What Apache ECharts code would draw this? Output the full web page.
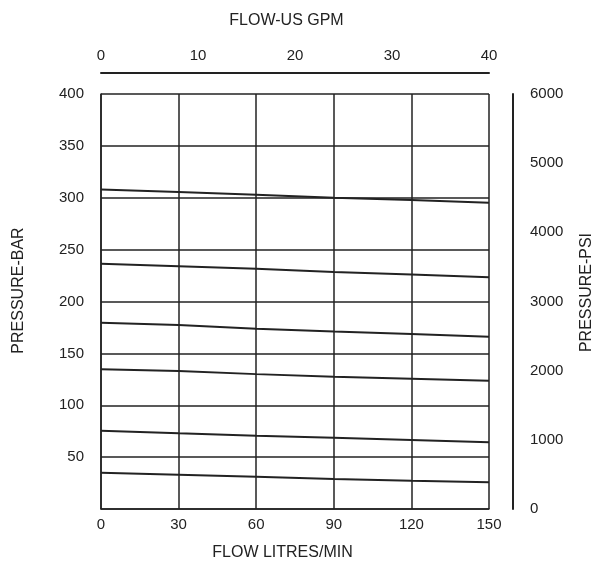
<!DOCTYPE html>
<html>
<head>
<meta charset="utf-8">
<script src="https://cdn.jsdelivr.net/npm/echarts@6/dist/echarts.min.js"></script>
<style>
  html, body { margin: 0; padding: 0; background: #fff; }
  #chart { width: 592px; height: 561px; }
</style>
</head>
<body>
<div id="chart"></div>
<script>
// Flow points (litres/min) at which the pressure curves are read
var flowLpm = [0, 30, 60, 90, 120, 150];
// Pressure (bar) of each relief curve at those flows
var curve1 = [308, 305.5, 303, 300, 297.8, 295.3];
var curve2 = [236.5, 234, 231.5, 228.5, 226, 223.3];
var curve3 = [179.5, 177.3, 173.8, 171, 168.7, 166];
var curve4 = [134.8, 133, 130, 127.5, 125.6, 123.7];
var curve5 = [75.5, 73, 70.7, 68.7, 66.5, 64.3];
var curve6 = [35, 33, 31, 29, 27.3, 25.7];
var curves = [curve1, curve2, curve3, curve4, curve5, curve6];

var FONT = 'Liberation Sans';
var INK = '#222';
var TICK = 15;
var NAME = 16;

function pairs(ys) {
  return flowLpm.map(function (x, i) { return [x, ys[i]]; });
}

var chart = echarts.init(document.getElementById('chart'), null, { renderer: 'canvas' });

var option = {
  backgroundColor: '#ffffff',
  animation: false,
  textStyle: { fontFamily: FONT, color: INK },
  grid: { left: 101, right: 103, top: 94, bottom: 52, containLabel: false, outerBoundsMode: 'none' },
  xAxis: [
    {
      type: 'value', position: 'bottom', min: 0, max: 150, interval: 30,
      name: 'FLOW LITRES/MIN', nameLocation: 'middle', nameGap: 36,
      nameTextStyle: { fontFamily: FONT, fontSize: NAME, color: INK, padding: [0, 25, 0, 0] },
      axisLine: { show: true, onZero: false, lineStyle: { color: INK, width: 1.5 } },
      axisTick: { show: false },
      axisLabel: { margin: 8, fontFamily: FONT, fontSize: TICK, color: INK },
      splitLine: { show: true, lineStyle: { color: INK, width: 1.5 } }
    },
    {
      type: 'value', position: 'top', min: 0, max: 40, interval: 10, offset: 21,
      name: 'FLOW-US GPM', nameLocation: 'middle', nameGap: 44,
      nameTextStyle: { fontFamily: FONT, fontSize: NAME, color: INK, padding: [0, 17, 0, 0] },
      axisLine: { show: true, onZero: false, lineStyle: { color: INK, width: 2 } },
      axisTick: { show: false },
      axisLabel: { margin: 10, fontFamily: FONT, fontSize: TICK, color: INK },
      splitLine: { show: false }
    }
  ],
  yAxis: [
    {
      type: 'value', position: 'left', min: 0, max: 400, interval: 50,
      name: 'PRESSURE-BAR', nameLocation: 'middle', nameGap: 74, nameRotate: 90,
      nameTextStyle: { fontFamily: FONT, fontSize: NAME, color: INK, padding: [0, 0, 0, 22] },
      axisLine: { show: true, onZero: false, lineStyle: { color: INK, width: 1.5 } },
      axisTick: { show: false },
      axisLabel: { margin: 17, fontFamily: FONT, fontSize: TICK, color: INK, showMinLabel: false },
      splitLine: { show: true, lineStyle: { color: INK, width: 1.5 } }
    },
    {
      type: 'value', position: 'right', min: 0, max: 6000, interval: 1000, offset: 24,
      name: 'PRESSURE-PSI', nameLocation: 'middle', nameGap: 66, nameRotate: 90,
      nameTextStyle: { fontFamily: FONT, fontSize: NAME, color: INK, padding: [0, 0, 0, 18] },
      axisLine: { show: true, onZero: false, lineStyle: { color: INK, width: 2 } },
      axisTick: { show: false },
      axisLabel: { margin: 17, fontFamily: FONT, fontSize: TICK, color: INK,
        formatter: function (v) { return String(v); } },
      splitLine: { show: false }
    }
  ],
  series: curves.map(function (c) {
    return {
      type: 'line', xAxisIndex: 0, yAxisIndex: 0,
      data: pairs(c), symbol: 'none', smooth: false,
      lineStyle: { color: INK, width: 2 }, z: 3
    };
  })
};

chart.setOption(option);
</script>
</body>
</html>
